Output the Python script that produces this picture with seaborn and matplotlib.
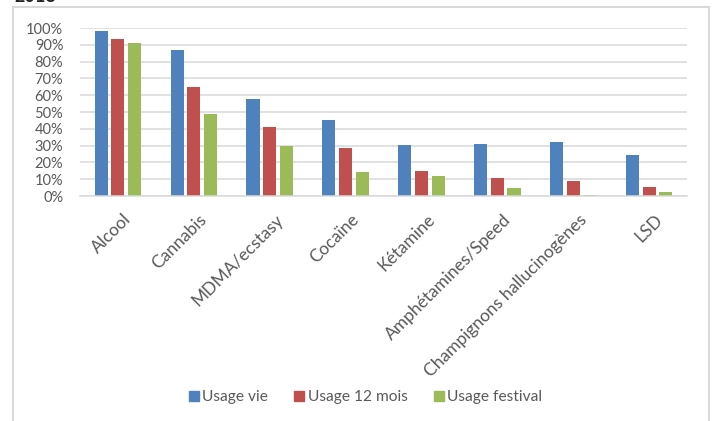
import matplotlib
matplotlib.use("Agg")
import matplotlib.pyplot as plt
from matplotlib.patches import Rectangle
from matplotlib.ticker import PercentFormatter
from matplotlib.transforms import ScaledTranslation
import pandas as pd
import seaborn as sns

categories = ["Alcool", "Cannabis", "MDMA/ecstasy", "Cocaïne", "Kétamine",
              "Amphétamines/Speed", "Champignons hallucinogènes", "LSD"]
usage_vie = [98.4, 86.9, 57.5, 45.4, 30.5, 31.1, 32.1, 24.4]
usage_12_mois = [93.6, 64.7, 41.1, 28.8, 15.1, 10.5, 8.9, 5.2]
usage_festival = [90.9, 48.6, 29.6, 14.5, 11.7, 5.0, 0.8, 2.2]
series_names = ["Usage vie", "Usage 12 mois", "Usage festival"]
series_colors = ["#4F81BD", "#C0504D", "#9BBB59"]
y_ticks = [0, 10, 20, 30, 40, 50, 60, 70, 80, 90, 100]

df = pd.DataFrame({
    "Produit": categories * 3,
    "Série": [series_names[0]] * 8 + [series_names[1]] * 8 + [series_names[2]] * 8,
    "Valeur": usage_vie + usage_12_mois + usage_festival,
})

sns.set_theme(style="white")
plt.rcParams["font.family"] = ["Lato", "DejaVu Sans"]

text_gray = "#595959"
grid_gray = "#D9D9D9"

fig = plt.figure(figsize=(7.14, 4.21), dpi=100)
ax = fig.add_axes([80 / 714, 1 - 196 / 421, 607 / 714, 168 / 421])

sns.barplot(data=df, x="Produit", y="Valeur", hue="Série",
            order=categories, hue_order=series_names, palette=series_colors,
            width=0.66, gap=0.22, saturation=1, linewidth=0, ax=ax,
            legend=False)

ax.set_xlim(-0.5, len(categories) - 0.5)
ax.set_ylim(0, 100)
ax.set_yticks(y_ticks)
ax.yaxis.set_major_formatter(PercentFormatter(decimals=0))
ax.yaxis.grid(True, color=grid_gray, linewidth=1.1)
ax.set_axisbelow(True)
for side in ["top", "right", "left"]:
    ax.spines[side].set_visible(False)
ax.spines["bottom"].set_color(grid_gray)
ax.spines["bottom"].set_linewidth(1.1)
ax.set_xlabel("")
ax.set_ylabel("")
ax.tick_params(axis="y", length=0, pad=12, labelsize=10.5, labelcolor=text_gray)
ax.tick_params(axis="x", length=0, pad=11, labelsize=12.5, labelcolor=text_gray)
shift = ScaledTranslation(5 / 100, 0, fig.dpi_scale_trans)
for lbl in ax.get_xticklabels():
    lbl.set_rotation(45)
    lbl.set_ha("right")
    lbl.set_rotation_mode("anchor")
    lbl.set_transform(lbl.get_transform() + shift)

# legend with square markers, centred under the chart
handles = [plt.Line2D([], [], marker="s", linestyle="", markersize=7,
                      markerfacecolor=c, markeredgecolor=c) for c in series_colors]
fig.legend(handles, series_names, loc="center", bbox_to_anchor=(364 / 714, 1 - 397 / 421),
           ncol=3, frameon=False, fontsize=11.2, labelcolor=text_gray,
           handletextpad=0.05, columnspacing=1.5, handlelength=1.0)

# chart frame
fig.patches.append(Rectangle((13 / 714, -0.1), (709 - 13) / 714, 1 - 7 / 421 + 0.1,
                             transform=fig.transFigure, fill=False,
                             edgecolor=grid_gray, linewidth=1.5, clip_on=False))

# year heading above the frame
fig.text(14 / 714, 1 + 4 / 421, "2018", fontsize=13, fontweight="bold",
         color="#222222", ha="left", va="center")

fig.savefig("out.png", dpi=100)
